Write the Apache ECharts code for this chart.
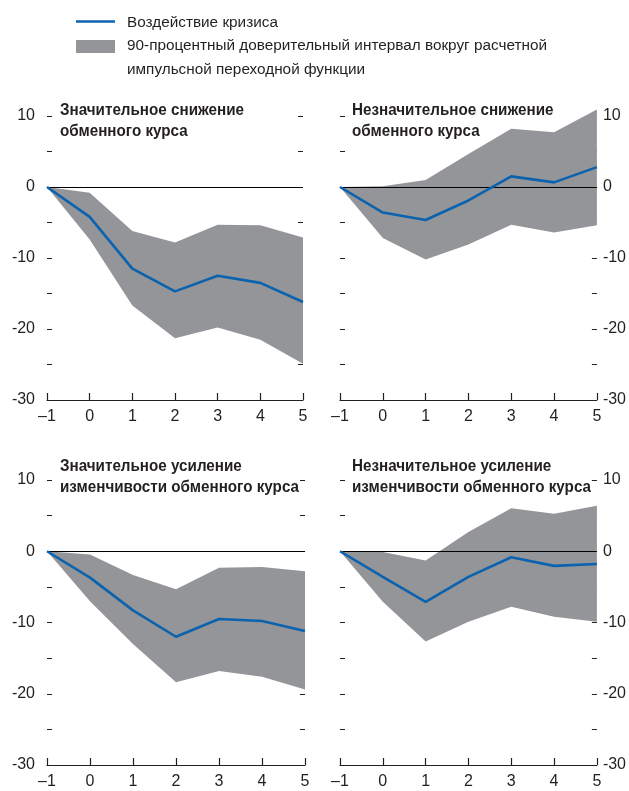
<!DOCTYPE html>
<html>
<head>
<meta charset="utf-8">
<script src="https://cdn.jsdelivr.net/npm/echarts@6/dist/echarts.min.js"></script>
<style>
  html, body { margin: 0; padding: 0; background: #fff; }
  #chart { width: 629px; height: 791px; }
</style>
</head>
<body>
<div id="chart"></div>
<script>
// Horizon (years relative to the crisis)
const categories = ['-1', '0', '1', '2', '3', '4', '5'];

// Panel titles
const titles = [
  'Значительное снижение\nобменного курса',
  'Незначительное снижение\nобменного курса',
  'Значительное усиление\nизменчивости обменного курса',
  'Незначительное усиление\nизменчивости обменного курса'
];

// Large depreciation
const effectBigDep = [0, -4.2, -11.5, -14.7, -12.5, -13.5, -16.2];
const upperBigDep  = [0, -0.8, -6.2, -7.8, -5.3, -5.4, -7.1];
const lowerBigDep  = [0, -7.4, -16.7, -21.3, -19.8, -21.5, -24.9];

// Small depreciation
const effectSmallDep = [0, -3.6, -4.65, -1.9, 1.5, 0.65, 2.8];
const upperSmallDep  = [0, 0.1, 1.0, 4.65, 8.2, 7.7, 10.9];
const lowerSmallDep  = [0, -7.2, -10.2, -8.1, -5.3, -6.4, -5.4];

// Large increase in volatility
const effectBigVol = [0, -3.7, -8.3, -12.0, -9.5, -9.8, -11.2];
const upperBigVol  = [0, -0.45, -3.35, -5.35, -2.3, -2.2, -2.8];
const lowerBigVol  = [0, -7.0, -13.0, -18.4, -16.8, -17.6, -19.4];

// Small increase in volatility
const effectSmallVol = [0, -3.6, -7.1, -3.6, -0.85, -2.05, -1.8];
const upperSmallVol  = [0, -0.1, -1.3, 2.7, 6.05, 5.25, 6.4];
const lowerSmallVol  = [0, -7.1, -12.65, -9.9, -7.8, -9.2, -9.9];

// Y axis ticks
const yMin = -30, yMax = 10, yStep = 5, yLabelStep = 10;

// Legend labels
const legendLine = 'Воздействие кризиса';
const legendBand = ['90-процентный доверительный интервал вокруг расчетной', 'импульсной переходной функции'];

const panels = [
  { effect: effectBigDep,   upper: upperBigDep,   lower: lowerBigDep,   labelSide: 'left' },
  { effect: effectSmallDep, upper: upperSmallDep, lower: lowerSmallDep, labelSide: 'right' },
  { effect: effectBigVol,   upper: upperBigVol,   lower: lowerBigVol,   labelSide: 'left' },
  { effect: effectSmallVol, upper: upperSmallVol, lower: lowerSmallVol, labelSide: 'right' }
];

const FONT = '"Liberation Sans", Arial, sans-serif';
const INK = '#231f20';
const BLUE = '#0b62ae';
const GREY = '#939598';

// Condensed look: squeeze text horizontally to the typeset widths
const measureCtx = document.createElement('canvas').getContext('2d');
function squeeze(text, font, targetWidth) {
  measureCtx.font = font;
  return targetWidth / measureCtx.measureText(text).width;
}
const TITLE_FONT = 'bold 16px ' + FONT;
const LEGEND_FONT = '15.5px ' + FONT;
const titleScale = squeeze('Значительное снижение', TITLE_FONT, 184);
const legendScale = squeeze(legendBand[0], LEGEND_FONT, 420);

const grids = [
  { left: 47,  top: 116, width: 256, height: 284 },
  { left: 340, top: 116, width: 257, height: 284 },
  { left: 47,  top: 480, width: 258, height: 285 },
  { left: 340, top: 480, width: 257, height: 285 }
];
// x of title start, y of first line middle
const titlePos = [
  { x: 60,  y: 111 },
  { x: 352, y: 111 },
  { x: 60,  y: 467 },
  { x: 352, y: 467 }
];
const titleLineGap = 21;

const xAxes = [], yAxes = [], series = [];
panels.forEach((p, i) => {
  xAxes.push({
    gridIndex: i,
    type: 'category',
    data: categories,
    boundaryGap: false,
    axisLine: { show: true, onZero: false, lineStyle: { color: INK, width: 1.2 } },
    axisTick: { show: true, inside: true, length: 7, lineStyle: { color: INK, width: 1.2 } },
    axisLabel: {
      margin: 9, fontSize: 16, color: INK, fontFamily: FONT,
      formatter: v => v.replace('-', '\u2013')
    },
    splitLine: { show: false }
  });
  ['left', 'right'].forEach(side => {
    const withLabels = side === p.labelSide;
    yAxes.push({
      gridIndex: i,
      type: 'value',
      position: side,
      min: yMin, max: yMax, interval: yStep,
      axisLine: { show: false },
      axisTick: { show: true, inside: true, length: 5, lineStyle: { color: INK, width: 1 } },
      axisLabel: {
        show: withLabels, margin: side === 'left' ? 12 : 6,
        fontSize: 16, color: INK, fontFamily: FONT,
        formatter: v => (v % yLabelStep === 0 ? String(v) : '')
      },
      splitLine: { show: false }
    });
  });
  const yIdx = i * 2;
  series.push({
    type: 'line', xAxisIndex: i, yAxisIndex: yIdx,
    data: p.lower, stack: 'band' + i, stackStrategy: 'all',
    symbol: 'none', lineStyle: { opacity: 0 }, silent: true, clip: false, z: 1
  });
  series.push({
    type: 'line', xAxisIndex: i, yAxisIndex: yIdx,
    data: p.upper.map((u, k) => u - p.lower[k]), stack: 'band' + i, stackStrategy: 'all',
    symbol: 'none', lineStyle: { opacity: 0 },
    areaStyle: { color: GREY, opacity: 1 }, silent: true, clip: false, z: 1
  });
  series.push({
    type: 'line', xAxisIndex: i, yAxisIndex: yIdx,
    data: p.effect, symbol: 'none', clip: false, z: 3,
    lineStyle: { color: BLUE, width: 2.6 },
    markLine: {
      silent: true, symbol: 'none', label: { show: false },
      lineStyle: { color: '#000', width: 1, type: 'solid' },
      data: [{ yAxis: 0 }], z: 2
    }
  });
});

// Text helper for squeezed lines (left edge stays put)
function textLine(text, x, y, font, scale) {
  return {
    type: 'text', x: x, y: y, scaleX: scale, scaleY: 1, z: 10,
    style: { text: text, font: font, fill: INK, textVerticalAlign: 'middle', textAlign: 'left' }
  };
}

const graphics = [
  { type: 'line', shape: { x1: 76, y1: 21.5, x2: 115, y2: 21.5 }, style: { stroke: BLUE, lineWidth: 2.6 } },
  { type: 'rect', shape: { x: 76, y: 40, width: 39, height: 13 }, style: { fill: GREY } },
  textLine(legendLine, 127, 22.5, LEGEND_FONT, legendScale),
  textLine(legendBand[0], 127, 45.5, LEGEND_FONT, legendScale),
  textLine(legendBand[1], 127, 69.5, LEGEND_FONT, legendScale)
];
titles.forEach((t, i) => {
  t.split('\n').forEach((line, k) => {
    graphics.push(textLine(line, titlePos[i].x, titlePos[i].y + k * titleLineGap, TITLE_FONT, titleScale));
  });
});

const chart = echarts.init(document.getElementById('chart'), null, { renderer: 'canvas' });
chart.setOption({
  animation: false,
  backgroundColor: '#fff',
  grid: grids,
  xAxis: xAxes,
  yAxis: yAxes,
  series: series,
  graphic: graphics
});
</script>
</body>
</html>
